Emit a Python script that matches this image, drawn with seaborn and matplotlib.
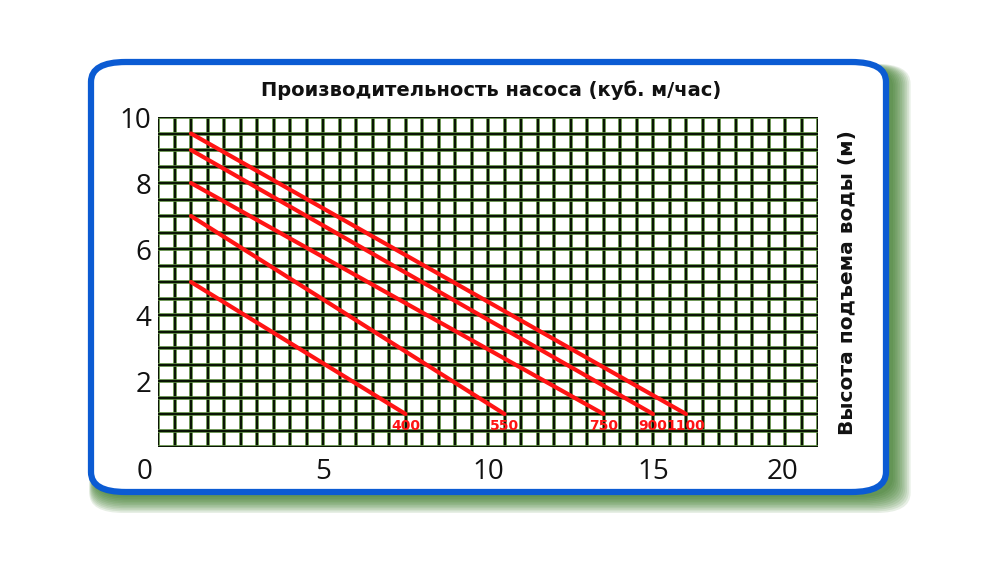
import numpy as np
import pandas as pd
import matplotlib
matplotlib.use("Agg")
import matplotlib.pyplot as plt
import matplotlib.patheffects as pe
from matplotlib.patches import FancyBboxPatch
from matplotlib.transforms import ScaledTranslation
import seaborn as sns

# pump models (flow labels) and their head/flow lines
models = ["400", "550", "750", "900", "1100"]
start_q = [1, 1, 1, 1, 1]
start_h = [5.0, 7.0, 8.0, 9.0, 9.5]
end_q = [7.5, 10.5, 13.5, 15.0, 16.0]
end_h = [1, 1, 1, 1, 1]

x_ticks = [0, 5, 10, 15, 20]
y_ticks = [2, 4, 6, 8, 10]
title = "Производительность насоса (куб. м/час)"
ylabel = "Высота подъема воды (м)"

rows = []
for m, q0, h0, q1, h1 in zip(models, start_q, start_h, end_q, end_h):
    rows.append({"model": m, "q": q0, "h": h0})
    rows.append({"model": m, "q": q1, "h": h1})
df = pd.DataFrame(rows)

sns.set_style("white")
plt.rcParams["font.family"] = ["DejaVu Sans"]

fig = plt.figure(figsize=(9.92, 5.67), dpi=100)
fig.patch.set_facecolor("white")

W, H = 992, 567


def fx(px):
    return px / W


def fy(py):
    return 1 - py / H


# green blurred shadow behind the card
for i in range(11):
    grow = i * 1.6
    shadow = FancyBboxPatch((fx(94 - grow * 0.3), fy(497 + grow)),
                            fx(799 + grow * 1.4), (430 + grow * 1.2) / H,
                            boxstyle="round,pad=0,rounding_size=0.035",
                            transform=fig.transFigure, facecolor="#2c7018",
                            edgecolor="none", alpha=0.11, zorder=0)
    fig.patches.append(shadow)

card = FancyBboxPatch((fx(91), fy(492)), fx(795), 430 / H,
                      boxstyle="round,pad=0,rounding_size=0.035",
                      transform=fig.transFigure, facecolor="white",
                      edgecolor="#0b5bd3", linewidth=4.5, zorder=1)
fig.patches.append(card)

ax = fig.add_axes([fx(158), fy(447), fx(818 - 158), (447 - 117) / H])
ax.set_zorder(2)
ax.patch.set_alpha(0)

# grid
grid_fx = [pe.withStroke(linewidth=2.6, foreground="#6fa84e")]
ax.vlines(np.arange(0, 20.01, 0.5), 0, 10, color="#0a1405", lw=1.7,
          path_effects=grid_fx, zorder=1)
ax.hlines(np.arange(0, 10.01, 0.5), 0, 20, color="#0a1405", lw=1.7,
          path_effects=grid_fx, zorder=1)

sns.lineplot(data=df, x="q", y="h", units="model", estimator=None,
             color="#ff1414", lw=3, ax=ax, legend=False, zorder=3)

for m, q1, h1 in zip(models, end_q, end_h):
    ax.text(q1, h1 - 0.35, m, color="#ff1414", ha="center", va="center",
            fontsize=10, fontweight="bold",
            family=["Liberation Sans Narrow", "DejaVu Sans Condensed", "DejaVu Sans"],
            zorder=4)

ax.set_xlim(0, 20)
ax.set_ylim(0, 10)
ax.set_xticks(x_ticks)
ax.set_yticks(y_ticks)
ax.set_xticklabels([str(t) for t in x_ticks])
ax.set_yticklabels([str(t) for t in y_ticks])
ax.tick_params(axis="both", length=0, labelsize=20, colors="#111111")
ax.tick_params(axis="x", pad=8)
ax.tick_params(axis="y", pad=5)
for lab in ax.get_xticklabels() + ax.get_yticklabels():
    lab.set_family(["Open Sans", "DejaVu Sans"])
xl = ax.get_xticklabels()
xl[0].set_transform(xl[0].get_transform() + ScaledTranslation(-0.13, 0, fig.dpi_scale_trans))
xl[-1].set_transform(xl[-1].get_transform() + ScaledTranslation(-0.36, 0, fig.dpi_scale_trans))
for s in ax.spines.values():
    s.set_visible(False)
ax.set_xlabel("")
ax.set_ylabel("")

fig.text(fx(491), fy(90), title, ha="center", va="center", fontsize=14,
         fontweight="bold", color="#111111")
fig.text(fx(848), fy(283), ylabel, ha="center", va="center", rotation=90,
         fontsize=14.5, fontweight="bold", color="#111111")

fig.savefig("out.png", dpi=100)
